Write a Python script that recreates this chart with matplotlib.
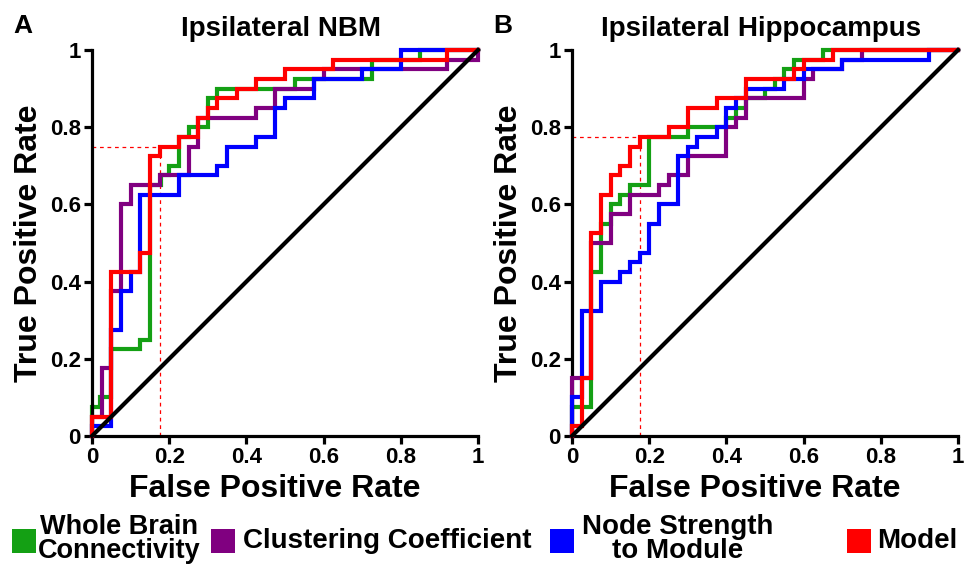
import matplotlib
matplotlib.use('Agg')
import matplotlib.pyplot as plt
from matplotlib import font_manager
from matplotlib.patches import Rectangle

# ---------------- data ----------------
series_labels = ['Whole Brain\nConnectivity', 'Clustering Coefficient', 'Node Strength\nto Module', 'Model']
series_colors = ['#14a014', '#800080', '#0000ff', '#ff0000']
panel_titles = ['Ipsilateral NBM', 'Ipsilateral Hippocampus']
panel_letters = ['A', 'B']
tick_values = [0, 0.2, 0.4, 0.6, 0.8, 1.0]
tick_labels = ['0', '0.2', '0.4', '0.6', '0.8', '1']

# Panel A (NBM) ROC step curves: (FPR, TPR) corners, step-pre
nbm_wbc_fpr = [0, 0.02, 0.05, 0.125, 0.15, 0.18, 0.2, 0.225, 0.25, 0.3, 0.325, 0.525, 0.725, 0.85, 1.0]
nbm_wbc_tpr = [0, 0.075, 0.1, 0.225, 0.25, 0.65, 0.675, 0.7, 0.775, 0.8, 0.875, 0.9, 0.925, 0.975, 1.0]
nbm_cc_fpr = [0, 0.025, 0.05, 0.075, 0.1, 0.175, 0.25, 0.275, 0.425, 0.475, 0.575, 0.6, 0.92, 1.0, 1.0]
nbm_cc_tpr = [0, 0.05, 0.175, 0.375, 0.6, 0.65, 0.675, 0.75, 0.825, 0.85, 0.9, 0.925, 0.95, 0.975, 1.0]
nbm_nsm_fpr = [0, 0.05, 0.075, 0.1, 0.125, 0.225, 0.325, 0.35, 0.425, 0.475, 0.5, 0.575, 0.7, 0.8, 1.0]
nbm_nsm_tpr = [0, 0.025, 0.275, 0.375, 0.425, 0.625, 0.675, 0.7, 0.75, 0.775, 0.85, 0.875, 0.925, 0.95, 1.0]
nbm_model_fpr = [0, 0.05, 0.125, 0.15, 0.175, 0.225, 0.275, 0.3, 0.325, 0.375, 0.425, 0.5, 0.625, 0.92, 1.0]
nbm_model_tpr = [0, 0.05, 0.425, 0.475, 0.725, 0.75, 0.775, 0.825, 0.85, 0.875, 0.9, 0.925, 0.95, 0.975, 1.0]
nbm_cut_fpr = 0.175
nbm_cut_tpr = 0.75

# Panel B (Hippocampus)
hip_wbc_fpr = [0, 0.05, 0.075, 0.1, 0.125, 0.15, 0.2, 0.3, 0.4, 0.425, 0.45, 0.5, 0.525, 0.55, 0.575, 0.65, 1.0]
hip_wbc_tpr = [0, 0.075, 0.425, 0.55, 0.6, 0.625, 0.65, 0.775, 0.8, 0.825, 0.85, 0.875, 0.9, 0.925, 0.95, 0.975, 1.0]
hip_cc_fpr = [0, 0.025, 0.05, 0.1, 0.15, 0.225, 0.25, 0.3, 0.4, 0.425, 0.45, 0.6, 0.625, 0.7, 0.75, 1.0]
hip_cc_tpr = [0, 0.15, 0.15, 0.5, 0.575, 0.625, 0.65, 0.675, 0.725, 0.8, 0.825, 0.875, 0.925, 0.95, 0.975, 1.0]
hip_nsm_fpr = [0, 0.025, 0.075, 0.125, 0.15, 0.175, 0.2, 0.225, 0.275, 0.3, 0.325, 0.375, 0.4, 0.425, 0.45, 0.55, 0.6, 0.7, 0.925, 1.0]
hip_nsm_tpr = [0, 0.1, 0.325, 0.4, 0.425, 0.45, 0.475, 0.55, 0.6, 0.725, 0.75, 0.775, 0.8, 0.85, 0.875, 0.9, 0.925, 0.95, 0.975, 1.0]
hip_model_fpr = [0, 0.025, 0.05, 0.075, 0.1, 0.125, 0.15, 0.175, 0.25, 0.3, 0.375, 0.45, 0.575, 0.6, 0.675, 1.0]
hip_model_tpr = [0, 0.025, 0.15, 0.525, 0.625, 0.675, 0.7, 0.75, 0.775, 0.8, 0.85, 0.875, 0.925, 0.95, 0.975, 1.0]
hip_cut_fpr = 0.175
hip_cut_tpr = 0.775

panels = [
    [(nbm_wbc_fpr, nbm_wbc_tpr), (nbm_cc_fpr, nbm_cc_tpr), (nbm_nsm_fpr, nbm_nsm_tpr), (nbm_model_fpr, nbm_model_tpr)],
    [(hip_wbc_fpr, hip_wbc_tpr), (hip_cc_fpr, hip_cc_tpr), (hip_nsm_fpr, hip_nsm_tpr), (hip_model_fpr, hip_model_tpr)],
]
cuts = [(nbm_cut_fpr, nbm_cut_tpr), (hip_cut_fpr, hip_cut_tpr)]

# ---------------- fonts ----------------
def have(name):
    try:
        font_manager.findfont(font_manager.FontProperties(family=name), fallback_to_default=False)
        return True
    except Exception:
        return False

main_font = 'Liberation Sans' if have('Liberation Sans') else 'DejaVu Sans'
narrow_font = 'Liberation Sans Narrow' if have('Liberation Sans Narrow') else main_font
plt.rcParams['font.family'] = [main_font, 'DejaVu Sans']
plt.rcParams['font.weight'] = 'bold'

W, H = 964, 565
fig = plt.figure(figsize=(W / 100, H / 100), dpi=100)

def fx(px):
    return px / W

def fy(py):
    return 1 - py / H

ax_left_px = [92, 572]
ax_top, ax_bot, ax_size = 50, 436, 386

for i, (left_px, curves) in enumerate(zip(ax_left_px, panels)):
    ax = fig.add_axes([fx(left_px), fy(ax_bot), ax_size / W, ax_size / H])
    ax.set_xlim(0, 1)
    ax.set_ylim(0, 1)
    for s in ['top', 'right']:
        ax.spines[s].set_visible(False)
    for s in ['left', 'bottom']:
        ax.spines[s].set_linewidth(2.3)
    ax.set_xticks(tick_values)
    ax.set_xticklabels(tick_labels)
    ax.set_yticks(tick_values)
    ax.set_yticklabels(tick_labels)
    ax.tick_params(axis='both', length=6, width=2.3, labelsize=16, direction='out')
    ax.tick_params(axis='x', pad=2)
    ax.tick_params(axis='y', pad=2)
    for lab in ax.get_xticklabels() + ax.get_yticklabels():
        lab.set_fontweight('bold')

    cf, ct = cuts[i]
    ax.plot([0, cf], [ct, ct], color='#ff0000', lw=0.9, ls=(0, (3, 3)), zorder=1)
    ax.plot([cf, cf], [0, ct], color='#ff0000', lw=0.9, ls=(0, (3, 3)), zorder=1)

    for j, ((fpr, tpr), col) in enumerate(zip(curves, series_colors)):
        ax.plot(fpr, tpr, drawstyle='steps-pre', color=col, lw=3.0, zorder=2 + j,
                clip_on=False, solid_joinstyle='miter')
    ax.plot([0, 1], [0, 1], color='black', lw=3.0, zorder=7, clip_on=False)

    xc = left_px + ax_size / 2
    fig.text(fx(xc - 4), fy(36), panel_titles[i], ha='center', va='baseline',
             fontsize=20, fontweight='bold')
    fig.text(fx(xc - 10), fy(497), 'False Positive Rate', ha='center', va='baseline',
             fontsize=23, fontweight='bold')
    fig.text(fx(left_px - 63), fy(243), 'True Positive Rate', ha='center', va='center',
             rotation=90, fontsize=23, fontweight='bold')

fig.text(fx(13), fy(33), panel_letters[0], ha='left', va='baseline', fontsize=19, fontweight='bold')
fig.text(fx(493), fy(33), panel_letters[1], ha='left', va='baseline', fontsize=19, fontweight='bold')

# ---------------- legend ----------------
sq = 24
legend_sq_x = [12, 211, 550, 847]
legend_text_cx = [119, None, 678, None]
legend_text_lx = [None, 243, None, 877]
legend_sizes = [19.5, 20, 20, 20]
for k in range(4):
    fig.patches.append(Rectangle((fx(legend_sq_x[k]), fy(553)), sq / W, sq / H,
                                 transform=fig.transFigure, facecolor=series_colors[k],
                                 edgecolor='none'))
    if legend_text_cx[k] is not None:
        fig.text(fx(legend_text_cx[k]), fy(539), series_labels[k], ha='center', va='center',
                 fontsize=legend_sizes[k], fontweight='bold', family=[narrow_font, 'DejaVu Sans'],
                 linespacing=0.85)
    else:
        fig.text(fx(legend_text_lx[k]), fy(541), series_labels[k], ha='left', va='center',
                 fontsize=legend_sizes[k], fontweight='bold', family=[narrow_font, 'DejaVu Sans'])

fig.savefig('out.png', dpi=100)
